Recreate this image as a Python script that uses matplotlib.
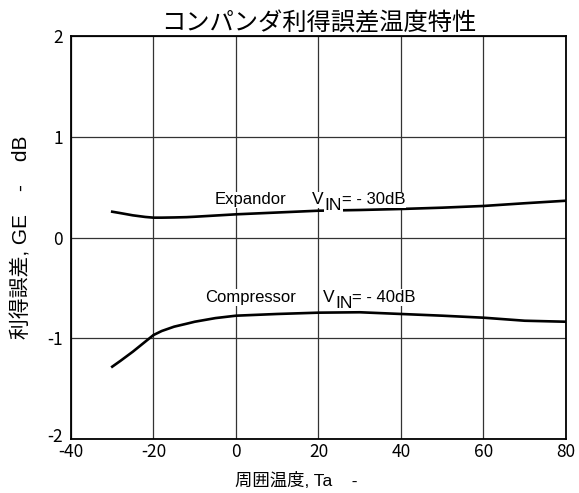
import matplotlib
matplotlib.use("Agg")
from matplotlib import pyplot as plt
from matplotlib.transforms import ScaledTranslation

plt.rcParams["font.family"] = ["Noto Sans CJK JP", "DejaVu Sans"]
plt.rcParams["axes.unicode_minus"] = False
LATIN = ["Liberation Sans", "Noto Sans CJK JP"]

# gain error vs ambient temperature (dB)
temps = [-30, -28, -25, -22, -20, -18, -15, -12, -10, -5, 0, 10, 20, 30, 40,
         50, 60, 70, 80]
expandor = [0.256, 0.242, 0.22, 0.204, 0.197, 0.197, 0.199, 0.202, 0.206,
            0.218, 0.23, 0.248, 0.266, 0.273, 0.283, 0.296, 0.313, 0.34, 0.365]
compressor = [-1.282, -1.224, -1.133, -1.034, -0.968, -0.928, -0.885, -0.856,
              -0.836, -0.80, -0.776, -0.759, -0.746, -0.742, -0.759, -0.776,
              -0.796, -0.826, -0.836]

x_ticks = [-40, -20, 0, 20, 40, 60, 80]
y_ticks = [-2, -1, 0, 1, 2]

title = "コンパンダ利得誤差温度特性"
x_label = "周囲温度, Ta    -"
y_label = "利得誤差, GE    -    dB"

fig = plt.figure(figsize=(5.79, 4.93), dpi=100)
ax = fig.add_axes([0.1226, 0.1095, 0.8549, 0.8175])

ax.plot(temps, expandor, color="black", lw=1.9, solid_joinstyle="round")
ax.plot(temps, compressor, color="black", lw=1.9, solid_joinstyle="round")

ax.set_xlim(-40, 80)
ax.set_ylim(-2, 2)
ax.set_xticks(x_ticks)
ax.set_yticks(y_ticks)
ax.grid(True, color="#333333", lw=0.9)
ax.tick_params(length=0, labelsize=12.5)
ax.tick_params(axis="x", pad=3)
ax.tick_params(axis="y", pad=6)
for s in ax.spines.values():
    s.set_linewidth(1.3)

# lift the bottom y label a little so it clears the -40 below it
lowest = ax.get_yticklabels()[0]
lowest.set_transform(lowest.get_transform()
                     + ScaledTranslation(0, 3 / 72, fig.dpi_scale_trans))

ax.set_title(title, fontsize=17.5, pad=4)
ax.set_xlabel(x_label, fontsize=12.5, family=LATIN)
ax.xaxis.set_label_coords(0.456, -0.082)
ax.set_ylabel(y_label, fontsize=15, labelpad=11, family=LATIN)

box = dict(fc="white", ec="none", pad=0.5)


def vin_label(x, y, value):
    v = ax.text(x, y, "V", fontsize=12.5, family=LATIN, ha="left",
                va="baseline", bbox=box)
    sub = ax.annotate("IN", xy=(1, 0), xycoords=v, xytext=(0.5, -4),
                      textcoords="offset points", fontsize=12.5, family=LATIN,
                      ha="left", va="bottom", bbox=box)
    ax.annotate("= - %ddB" % value, xy=(1, 0), xycoords=sub, xytext=(0, 4),
                textcoords="offset points", fontsize=12, family=LATIN,
                ha="left", va="bottom", bbox=box)


ax.text(-5.2, 0.33, "Expandor", fontsize=12, family=LATIN, ha="left",
        va="baseline", bbox=box)
vin_label(18.5, 0.33, 30)
ax.text(-7.6, -0.64, "Compressor", fontsize=12, family=LATIN, ha="left",
        va="baseline", bbox=box)
vin_label(21.0, -0.64, 40)

fig.savefig("out.png", dpi=100)
